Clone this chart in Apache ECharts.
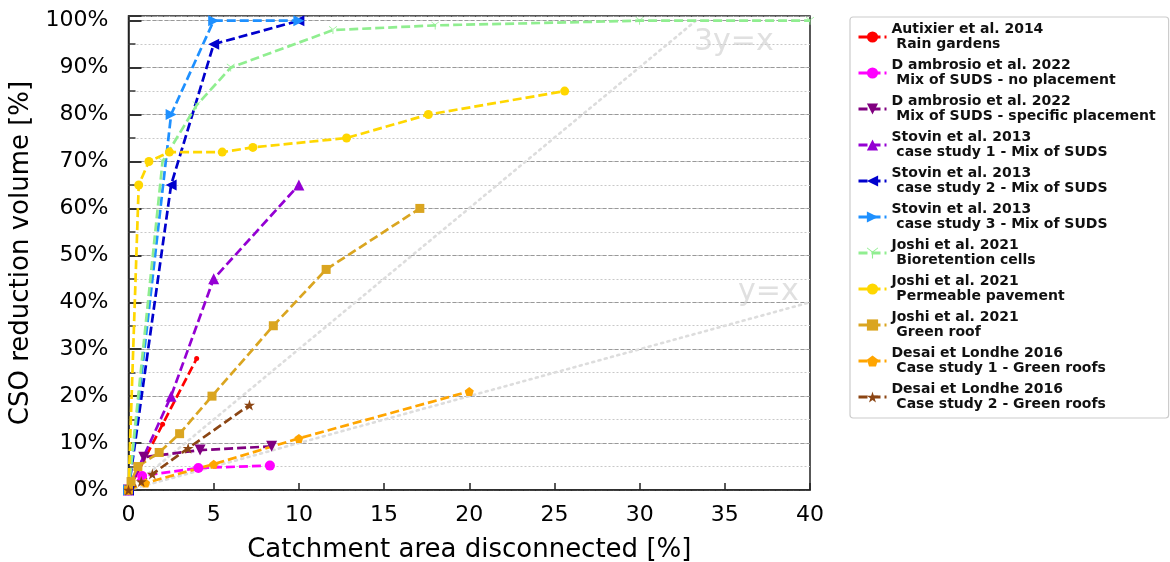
<!DOCTYPE html>
<html>
<head>
<meta charset="utf-8">
<script src="https://cdn.jsdelivr.net/npm/echarts@6/dist/echarts.min.js"></script>
<style>
html,body{margin:0;padding:0;background:#fff;}
#chart{width:1170px;height:562px;}
</style>
</head>
<body>
<div id="chart"></div>
<script>
// ---- data ----
const xTicks = [0, 5, 10, 15, 20, 25, 30, 35, 40];
const yTicks = [0, 10, 20, 30, 40, 50, 60, 70, 80, 90, 100];

const autixierX = [0, 2, 4];
const autixierY = [0, 14, 28];

const dambNoPlaceX = [0, 0.8, 4.1, 8.3];
const dambNoPlaceY = [0, 3, 4.7, 5.2];

const dambSpecX = [0, 0.9, 4.2, 8.4];
const dambSpecY = [0, 7, 8.5, 9.3];

const stovin1X = [0, 2.5, 5, 10];
const stovin1Y = [0, 20, 45, 65];

const stovin2X = [0, 2.5, 5, 10];
const stovin2Y = [0, 65, 95, 100];

const stovin3X = [0, 2.5, 5, 10];
const stovin3Y = [0, 80, 100, 100];

const joshiBioX = [0, 2, 4, 6, 12, 18, 30, 40];
const joshiBioY = [0, 70, 82, 90, 98, 99, 100, 100];

const joshiPermX = [0, 0.6, 1.2, 2.4, 5.5, 7.3, 12.8, 17.6, 25.6];
const joshiPermY = [0, 65, 70, 72, 72, 73, 75, 80, 85];

const joshiRoofX = [0, 0.15, 0.55, 1.8, 3.0, 4.9, 8.5, 11.6, 17.1];
const joshiRoofY = [0, 1.8, 5, 8, 12, 20, 35, 47, 60];

const desai1X = [0, 1, 5, 10, 20];
const desai1Y = [0, 1.5, 5.5, 11, 21];

const desai2X = [0, 0.75, 1.4, 3.5, 7.1];
const desai2Y = [0, 1.8, 3.4, 8.9, 18.1];

const refYeqX_X = [0, 40];
const refYeqX_Y = [0, 40];
const ref3_X = [0, 33.3];
const ref3_Y = [0, 100];

const names = [
  'Autixier et al. 2014\n Rain gardens',
  'D ambrosio et al. 2022\n Mix of SUDS - no placement',
  'D ambrosio et al. 2022\n Mix of SUDS - specific placement',
  'Stovin et al. 2013\n case study 1 - Mix of SUDS',
  'Stovin et al. 2013\n case study 2 - Mix of SUDS',
  'Stovin et al. 2013\n case study 3 - Mix of SUDS',
  'Joshi et al. 2021\n Bioretention cells',
  'Joshi et al. 2021\n Permeable pavement',
  'Joshi et al. 2021\n Green roof',
  'Desai et Londhe 2016\n Case study 1 - Green roofs',
  'Desai et Londhe 2016\n Case study 2 - Green roofs'
];

// ---- helpers ----
function pairs(xs, ys) { return xs.map((x, i) => [x, ys[i]]); }

const PENTAGON = 'path://M0,-1 L0.951,-0.309 L0.588,0.809 L-0.588,0.809 L-0.951,-0.309 Z';
const STAR = 'path://M0,-1 L0.2245,-0.309 L0.951,-0.309 L0.363,0.118 L0.588,0.809 L0,0.382 L-0.588,0.809 L-0.363,0.118 L-0.951,-0.309 L-0.2245,-0.309 Z';
const TRI_DOWN_THIN = 'path://M-1,-0.6 L-0.1,0 L-0.1,1 L0.1,1 L0.1,0 L1,-0.6 L0.95,-0.75 L0,-0.1 L-0.95,-0.75 Z';

function mk(name, xs, ys, color, symbol, size, rotate) {
  return {
    name: name,
    type: 'line',
    data: pairs(xs, ys),
    symbol: symbol,
    symbolSize: size,
    symbolRotate: rotate || 0,
    showSymbol: true,
    lineStyle: { color: color, width: 2.7, type: [9, 4] },
    itemStyle: { color: color },
    emphasis: { disabled: true },
    animation: false,
    z: 3
  };
}

const series = [
  {
    name: 'ref3', type: 'line', data: pairs(ref3_X, ref3_Y), symbol: 'none',
    lineStyle: { color: '#dddddd', width: 2.6, type: [2, 4.5], cap: 'round' }, z: 1, animation: false, silent: true
  },
  {
    name: 'ref1', type: 'line', data: pairs(refYeqX_X, refYeqX_Y), symbol: 'none',
    lineStyle: { color: '#dddddd', width: 2.6, type: [2, 4.5], cap: 'round' }, z: 1, animation: false, silent: true
  },
  mk(names[0], autixierX, autixierY, '#FF0000', 'circle', 5),
  mk(names[1], dambNoPlaceX, dambNoPlaceY, '#FF00FF', 'circle', 10),
  mk(names[2], dambSpecX, dambSpecY, '#800080', 'triangle', 11, 180),
  mk(names[3], stovin1X, stovin1Y, '#9400D3', 'triangle', 11),
  mk(names[4], stovin2X, stovin2Y, '#0000CD', 'triangle', 11, 90),
  mk(names[5], stovin3X, stovin3Y, '#1E90FF', 'triangle', 11, -90),
  mk(names[6], joshiBioX, joshiBioY, '#90EE90', TRI_DOWN_THIN, 8),
  mk(names[7], joshiPermX, joshiPermY, '#FFD700', 'circle', 9),
  mk(names[8], joshiRoofX, joshiRoofY, '#DAA520', 'rect', 9),
  mk(names[9], desai1X, desai1Y, '#FFA500', PENTAGON, 9),
  mk(names[10], desai2X, desai2Y, '#8B4513', STAR, 11)
];

const FONT = 'DejaVu Sans';
const chart = echarts.init(document.getElementById('chart'), null, { renderer: 'canvas' });
chart.setOption({
  backgroundColor: '#ffffff',
  animation: false,
  textStyle: { fontFamily: FONT },
  grid: {
    left: 128.5, right: 360, top: 16, bottom: 72,
    containLabel: false, outerBoundsMode: 'none',
    show: true, borderColor: '#222', borderWidth: 1.5, backgroundColor: '#fff'
  },
  xAxis: {
    type: 'value', min: 0, max: 40, interval: 5,
    name: 'Catchment area disconnected [%]',
    nameLocation: 'middle', nameGap: 47,
    nameTextStyle: { fontSize: 26, color: '#000', fontFamily: FONT },
    axisLine: { show: true, onZero: false, lineStyle: { color: '#222', width: 1.5 } },
    axisTick: { show: true, inside: true, length: 7, lineStyle: { color: '#222', width: 1.5 } },
    axisLabel: {
      fontSize: 22, color: '#000', margin: 14, fontFamily: FONT,
      formatter: v => xTicks.indexOf(v) >= 0 ? String(v) : ''
    },
    splitLine: { show: false }
  },
  yAxis: [
    {
      type: 'value', min: 0, max: 101, interval: 5,
      axisLine: { show: false },
      axisTick: { show: true, inside: true, length: 7, lineStyle: { color: '#333', width: 1.5 } },
      axisLabel: { show: false },
      splitLine: { show: true, lineStyle: { color: '#c8c8c8', width: 1, type: [2, 2] } }
    },
    {
      type: 'value', min: 0, max: 101, interval: 10,
      name: 'CSO reduction volume [%]',
      nameLocation: 'middle', nameGap: 88,
      nameTextStyle: { fontSize: 26, color: '#000', fontFamily: FONT },
      axisLine: { show: true, lineStyle: { color: '#222', width: 1.5 } },
      axisTick: { show: true, inside: true, length: 13, lineStyle: { color: '#333', width: 2 } },
      axisLabel: {
        fontSize: 22, color: '#000', margin: 20, fontFamily: FONT,
        formatter: v => yTicks.indexOf(v) >= 0 ? v + '%' : ''
      },
      splitLine: { show: true, lineStyle: { color: '#999', width: 1, type: [4, 2] } },
      position: 'left'
    }
  ],
  legend: {
    data: names,
    orient: 'vertical',
    left: 850, top: 17,
    padding: [5, 13, 6, 7],
    itemGap: 6,
    itemWidth: 28, itemHeight: 14,
    itemTextGap: 9,
    borderColor: '#cccccc', borderWidth: 1.2, borderRadius: 3,
    backgroundColor: '#fff',
    lineStyle: { width: 3 },
    textStyle: { fontFamily: FONT, fontWeight: 'bold', fontSize: 14, lineHeight: 15, color: '#111' },
    selectedMode: false
  },
  graphic: [
    { type: 'text', left: 694, top: 27, silent: true,
      style: { text: '3y=x', fontSize: 30, fontFamily: FONT, fill: '#e0e0e0' } },
    { type: 'text', left: 738, top: 277, silent: true,
      style: { text: 'y=x', fontSize: 30, fontFamily: FONT, fill: '#e0e0e0' } }
  ],
  series: series.map(s => Object.assign({ yAxisIndex: 1 }, s))
});
</script>
</body>
</html>
